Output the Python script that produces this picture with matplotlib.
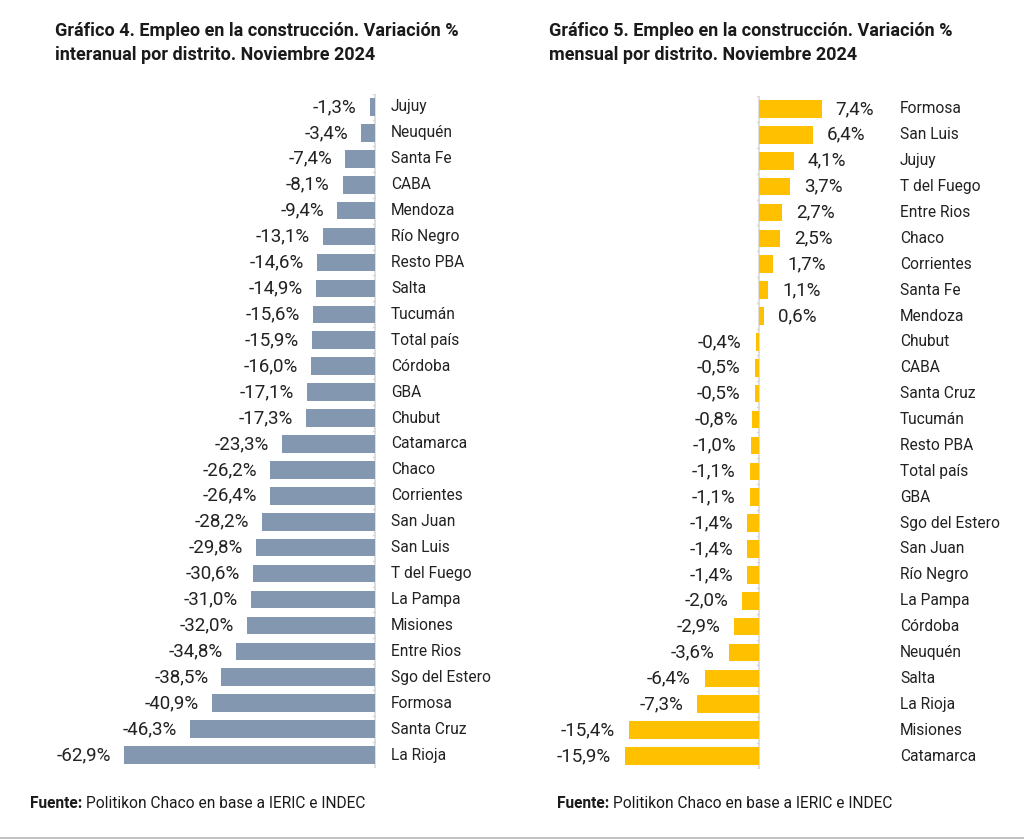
import numpy as np
import matplotlib
matplotlib.use("Agg")
import matplotlib.pyplot as plt

plt.rcParams['font.family'] = ['Roboto', 'DejaVu Sans']

# Gráfico 4: variación interanual
dist_ia = ["Jujuy", "Neuquén", "Santa Fe", "CABA", "Mendoza", "Río Negro", "Resto PBA",
           "Salta", "Tucumán", "Total país", "Córdoba", "GBA", "Chubut", "Catamarca",
           "Chaco", "Corrientes", "San Juan", "San Luis", "T del Fuego", "La Pampa",
           "Misiones", "Entre Rios", "Sgo del Estero", "Formosa", "Santa Cruz", "La Rioja"]
val_ia = [-1.3, -3.4, -7.4, -8.1, -9.4, -13.1, -14.6, -14.9, -15.6, -15.9, -16.0, -17.1,
          -17.3, -23.3, -26.2, -26.4, -28.2, -29.8, -30.6, -31.0, -32.0, -34.8, -38.5,
          -40.9, -46.3, -62.9]

# Gráfico 5: variación mensual
dist_m = ["Formosa", "San Luis", "Jujuy", "T del Fuego", "Entre Rios", "Chaco", "Corrientes",
          "Santa Fe", "Mendoza", "Chubut", "CABA", "Santa Cruz", "Tucumán", "Resto PBA",
          "Total país", "GBA", "Sgo del Estero", "San Juan", "Río Negro", "La Pampa",
          "Córdoba", "Neuquén", "Salta", "La Rioja", "Misiones", "Catamarca"]
val_m = [7.4, 6.4, 4.1, 3.7, 2.7, 2.5, 1.7, 1.1, 0.6, -0.4, -0.5, -0.5, -0.8, -1.0, -1.1,
         -1.1, -1.4, -1.4, -1.4, -2.0, -2.9, -3.6, -6.4, -7.3, -15.4, -15.9]

W, H = 1024, 839
fig = plt.figure(figsize=(W / 100, H / 100), dpi=100)
fig.patch.set_facecolor("white")
TXT = "#222222"


def px_axes(x0, x1, y0, y1):
    # pixel box -> figure fraction axes
    return fig.add_axes([x0 / W, 1 - y1 / H, (x1 - x0) / W, (y1 - y0) / H])


def fmt(v):
    return f"{v:.1f}".replace(".", ",") + "%"


def panel(ax, names, vals, color, zero_px, scale, x0, x1, gap_px):
    n = len(names)
    y = np.arange(n)
    ax.barh(y, vals, height=0.68, color=color, zorder=2)
    ax.set_xlim(-(zero_px - x0) / scale, (x1 - zero_px) / scale)
    ax.set_ylim(n - 0.5, -0.5)
    ax.axis("off")
    ax.plot([0, 0], [-0.5, n - 0.5], color="#D9D9D9", lw=1.2, zorder=1)
    for k in range(n + 1):
        ax.plot([0, -2.5 / scale], [k - 0.5, k - 0.5], color="#D9D9D9", lw=1, zorder=1)
    gap = gap_px / scale
    for yi, v in zip(y, vals):
        if v < 0:
            ax.text(v - gap, yi, fmt(v), ha="right", va="center", fontsize=13.5, color=TXT)
        else:
            ax.text(v + gap, yi, fmt(v), ha="left", va="center", fontsize=13.5, color=TXT)
    tr = ax.get_yaxis_transform()
    for yi, name in zip(y, names):
        ax.text(1.0, yi, name, transform=tr, ha="left", va="center", fontsize=11.2,
                color=TXT)


ax1 = px_axes(40, 391, 94, 768)
panel(ax1, dist_ia, val_ia, "#8497B0", 375, 3.99, 40, 391, 13)

ax2 = px_axes(560, 900, 96, 769)
panel(ax2, dist_m, val_m, "#FFC000", 759, 8.45, 560, 900, 14)

fig.text(55 / W, 1 - 22 / H, "Gráfico 4. Empleo en la construcción. Variación %\n"
         "interanual por distrito. Noviembre 2024", ha="left", va="top",
         fontsize=13, fontweight="bold", color="#1a1a1a", linespacing=1.45)
fig.text(549 / W, 1 - 22 / H, "Gráfico 5. Empleo en la construcción. Variación %\n"
         "mensual por distrito. Noviembre 2024", ha="left", va="top",
         fontsize=13, fontweight="bold", color="#1a1a1a", linespacing=1.45)

renderer = fig.canvas.get_renderer()
for xf in (30, 557):
    t = fig.text(xf / W, 1 - 803 / H, "Fuente: ", ha="left", va="center",
                 fontsize=11.2, fontweight="bold", color="#1a1a1a")
    bb = t.get_window_extent(renderer)
    fig.text(bb.x1 / W, 1 - 803 / H, "Politikon Chaco en base a IERIC e INDEC",
             ha="left", va="center", fontsize=11.2, color="#1a1a1a")

fig.add_artist(plt.Line2D([0, 1], [1.5 / H, 1.5 / H], transform=fig.transFigure,
                          color="#BFBFBF", lw=2))

fig.savefig("out.png", dpi=100, facecolor="white")
